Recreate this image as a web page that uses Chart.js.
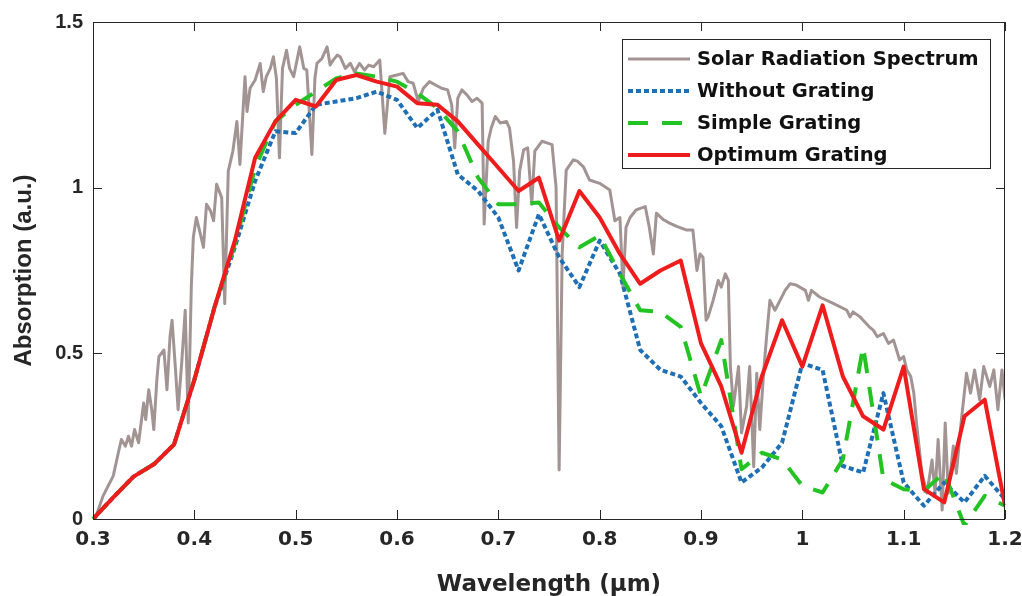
<!DOCTYPE html>
<html>
<head>
<meta charset="utf-8">
<script src="https://cdn.jsdelivr.net/npm/chart.js@4.4.1/dist/chart.umd.min.js"></script>
<style>
  html, body { margin: 0; padding: 0; background: #fff; }
</style>
</head>
<body>
<canvas id="chart" width="1022" height="596"></canvas>
<script>
// ===== Data =====
const seriesNames = ["Solar Radiation Spectrum", "Without Grating", "Simple Grating", "Optimum Grating"];

const xTicks = [0.3, 0.4, 0.5, 0.6, 0.7, 0.8, 0.9, 1.0, 1.1, 1.2];
const yTicks = [0, 0.5, 1, 1.5];

// simulated wavelengths (um)
const gratingWl = [0.30, 0.32, 0.34, 0.36, 0.38, 0.40, 0.42, 0.44, 0.46, 0.48,
                   0.50, 0.52, 0.54, 0.56, 0.58, 0.60, 0.62, 0.64, 0.66, 0.68,
                   0.70, 0.72, 0.74, 0.76, 0.78, 0.80, 0.82, 0.84, 0.86, 0.88,
                   0.90, 0.92, 0.94, 0.96, 0.98, 1.00, 1.02, 1.04, 1.06, 1.08,
                   1.10, 1.12, 1.14, 1.16, 1.18, 1.20];

const withoutGrating = [0, 0.065, 0.128, 0.165, 0.225, 0.42, 0.64, 0.82, 1.02, 1.17,
                        1.165, 1.25, 1.26, 1.27, 1.29, 1.265, 1.18, 1.235, 1.04, 0.99,
                        0.91, 0.75, 0.92, 0.79, 0.70, 0.84, 0.74, 0.51, 0.45, 0.43,
                        0.35, 0.28, 0.11, 0.155, 0.23, 0.47, 0.45, 0.16, 0.14, 0.38,
                        0.11, 0.04, 0.11, 0.05, 0.13, 0.06];

const simpleGrating = [0, 0.065, 0.128, 0.165, 0.225, 0.42, 0.64, 0.83, 1.06, 1.20,
                       1.25, 1.29, 1.33, 1.345, 1.335, 1.32, 1.285, 1.24, 1.17, 1.03,
                       0.95, 0.95, 0.955, 0.88, 0.82, 0.855, 0.74, 0.63, 0.625, 0.58,
                       0.37, 0.54, 0.15, 0.20, 0.18, 0.10, 0.08, 0.18, 0.52, 0.12,
                       0.09, 0.085, 0.14, -0.02, 0.07, 0.04];

const optimumGrating = [0, 0.065, 0.128, 0.165, 0.225, 0.42, 0.64, 0.84, 1.09, 1.20,
                        1.265, 1.245, 1.325, 1.34, 1.32, 1.305, 1.255, 1.25, 1.20, 1.13,
                        1.06, 0.99, 1.03, 0.84, 0.99, 0.91, 0.80, 0.71, 0.75, 0.78,
                        0.53, 0.40, 0.20, 0.43, 0.60, 0.46, 0.645, 0.43, 0.31, 0.27,
                        0.46, 0.09, 0.05, 0.31, 0.36, 0.04];

// solar spectrum trace
const solarWl = [0.302, 0.310, 0.320, 0.325, 0.328, 0.332, 0.335, 0.338, 0.341, 0.345,
                 0.350, 0.352, 0.355, 0.358, 0.360, 0.363, 0.365, 0.370, 0.373, 0.376,
                 0.378, 0.381, 0.384, 0.3875, 0.391, 0.394, 0.397, 0.399, 0.402, 0.406,
                 0.409, 0.412, 0.416, 0.419, 0.422, 0.427, 0.430, 0.4335, 0.438, 0.442,
                 0.445, 0.450, 0.452, 0.455, 0.460, 0.465, 0.468, 0.471, 0.475, 0.478,
                 0.481, 0.484, 0.487, 0.491, 0.494, 0.498, 0.501, 0.504, 0.508, 0.511,
                 0.516, 0.519, 0.521, 0.526, 0.531, 0.534, 0.537, 0.541, 0.544, 0.549,
                 0.554, 0.558, 0.563, 0.568, 0.572, 0.577, 0.583, 0.588, 0.593, 0.600,
                 0.606, 0.611, 0.616, 0.621, 0.626, 0.632, 0.638, 0.644, 0.650, 0.654,
                 0.657, 0.660, 0.664, 0.669, 0.674, 0.679, 0.684, 0.686, 0.690, 0.693,
                 0.697, 0.702, 0.708, 0.711, 0.715, 0.718, 0.721, 0.725, 0.729, 0.733,
                 0.736, 0.743, 0.748, 0.753, 0.757, 0.760, 0.763, 0.767, 0.774, 0.778,
                 0.784, 0.790, 0.800, 0.810, 0.815, 0.820, 0.823, 0.826, 0.830, 0.836,
                 0.845, 0.849, 0.853, 0.856, 0.863, 0.869, 0.876, 0.886, 0.892, 0.896,
                 0.899, 0.902, 0.905, 0.907, 0.912, 0.917, 0.920, 0.924, 0.927, 0.929,
                 0.932, 0.937, 0.940, 0.945, 0.948, 0.952, 0.955, 0.958, 0.962, 0.965,
                 0.968, 0.973, 0.978, 0.983, 0.988, 0.994, 1.003, 1.006, 1.009, 1.017,
                 1.031, 1.044, 1.047, 1.050, 1.057, 1.060, 1.066, 1.070, 1.074, 1.080,
                 1.085, 1.090, 1.096, 1.100, 1.103, 1.107, 1.110, 1.113, 1.118, 1.123,
                 1.128, 1.131, 1.134, 1.138, 1.141, 1.144, 1.149, 1.152, 1.157, 1.162,
                 1.166, 1.170, 1.175, 1.179, 1.185, 1.189, 1.193, 1.197, 1.200];
const solarVal = [0.00, 0.07, 0.13, 0.20, 0.24, 0.22, 0.25, 0.22, 0.27, 0.23,
                  0.35, 0.30, 0.39, 0.33, 0.27, 0.42, 0.49, 0.51, 0.39, 0.55,
                  0.60, 0.47, 0.33, 0.47, 0.63, 0.29, 0.70, 0.85, 0.91, 0.86,
                  0.82, 0.95, 0.93, 0.90, 1.01, 0.97, 0.65, 1.05, 1.11, 1.20,
                  1.07, 1.335, 1.23, 1.30, 1.325, 1.375, 1.29, 1.335, 1.36, 1.395,
                  1.33, 1.09, 1.36, 1.415, 1.36, 1.335, 1.38, 1.425, 1.36, 1.355,
                  1.10, 1.33, 1.375, 1.39, 1.425, 1.37, 1.385, 1.40, 1.395, 1.36,
                  1.375, 1.35, 1.375, 1.355, 1.37, 1.365, 1.385, 1.164, 1.335, 1.34,
                  1.345, 1.32, 1.315, 1.26, 1.30, 1.32, 1.31, 1.30, 1.295, 1.25,
                  1.12, 1.27, 1.295, 1.28, 1.26, 1.27, 1.255, 0.89, 1.14, 1.18,
                  1.215, 1.195, 1.20, 1.18, 1.08, 0.88, 1.05, 1.114, 1.12, 0.95,
                  1.11, 1.14, 1.135, 1.13, 1.0, 0.148, 0.80, 1.053, 1.084, 1.08,
                  1.063, 1.023, 1.013, 0.993, 0.90, 0.91, 0.70, 0.88, 0.91, 0.933,
                  0.943, 0.88, 0.80, 0.923, 0.903, 0.893, 0.883, 0.872, 0.872, 0.75,
                  0.80, 0.79, 0.60, 0.61, 0.66, 0.72, 0.70, 0.74, 0.72, 0.46,
                  0.34, 0.46, 0.26, 0.34, 0.46, 0.158, 0.44, 0.27, 0.45, 0.56,
                  0.66, 0.63, 0.66, 0.69, 0.71, 0.706, 0.69, 0.66, 0.69, 0.67,
                  0.65, 0.63, 0.61, 0.625, 0.61, 0.60, 0.58, 0.57, 0.55, 0.56,
                  0.53, 0.54, 0.48, 0.49, 0.45, 0.43, 0.38, 0.28, 0.138, 0.078,
                  0.178, 0.078, 0.24, 0.027, 0.29, 0.078, 0.22, 0.138, 0.30, 0.44,
                  0.38, 0.45, 0.36, 0.46, 0.40, 0.45, 0.33, 0.45, 0.36];

// ===== helpers =====
const toPoints = (xs, ys) => xs.map((x, i) => ({ x, y: ys[i] }));

const tickFont = { family: "DejaVu Sans", weight: "bold", size: 20 };
const axisColor = "#262626";

// ===== frame + inward tick marks (MATLAB style) =====
const frameTicks = {
  id: "frameTicks",
  afterDatasetsDraw(chart) {
    const { ctx, chartArea: a, scales: { x, y } } = chart;
    ctx.save();
    ctx.strokeStyle = axisColor;
    ctx.lineWidth = 1;
    ctx.strokeRect(a.left + 0.5, a.top + 0.5, a.right - a.left - 1, a.bottom - a.top);
    ctx.beginPath();
    xTicks.forEach(v => {
      const px = Math.round(x.getPixelForValue(v)) + 0.5;
      ctx.moveTo(px, a.bottom); ctx.lineTo(px, a.bottom - 9);
      ctx.moveTo(px, a.top); ctx.lineTo(px, a.top + 9);
    });
    yTicks.forEach(v => {
      const py = Math.round(y.getPixelForValue(v)) + 0.5;
      ctx.moveTo(a.left, py); ctx.lineTo(a.left + 9, py);
      ctx.moveTo(a.right, py); ctx.lineTo(a.right - 9, py);
    });
    ctx.stroke();
    ctx.restore();
  }
};

// ===== legend box inside the axes =====
const boxLegend = {
  id: "boxLegend",
  afterDraw(chart) {
    const { ctx } = chart;
    const left = 622, top = 39, w = 368, h = 129, rowH = 32;
    ctx.save();
    ctx.fillStyle = "#fff";
    ctx.fillRect(left, top, w, h);
    ctx.strokeStyle = axisColor;
    ctx.lineWidth = 1;
    ctx.strokeRect(left + 0.5, top + 0.5, w, h);
    chart.data.datasets.forEach((ds, row) => {
      const cy = top + 20 + row * rowH;
      ctx.beginPath();
      ctx.strokeStyle = ds.borderColor;
      ctx.lineWidth = ds.borderWidth;
      ctx.setLineDash(ds.borderDash || []);
      ctx.moveTo(left + 6, cy);
      ctx.lineTo(left + 68, cy);
      ctx.stroke();
      ctx.setLineDash([]);
      ctx.fillStyle = "#111";
      ctx.font = "bold 19.5px 'DejaVu Sans'";
      ctx.textBaseline = "middle";
      ctx.fillText(ds.label, left + 75, cy + 1);
    });
    ctx.restore();
  }
};

// ===== chart =====
new Chart(document.getElementById("chart"), {
  type: "line",
  data: {
    datasets: [
      { label: seriesNames[0], data: toPoints(solarWl, solarVal), borderColor: "#a39494", borderWidth: 3, order: 4 },
      { label: seriesNames[1], data: toPoints(gratingWl, withoutGrating), borderColor: "#1f6fb4", borderWidth: 4, borderDash: [5, 3], order: 3 },
      { label: seriesNames[2], data: toPoints(gratingWl, simpleGrating), borderColor: "#22c322", borderWidth: 4, borderDash: [20, 14], order: 2, clip: 6 },
      { label: seriesNames[3], data: toPoints(gratingWl, optimumGrating), borderColor: "#ee1c1c", borderWidth: 4, order: 1 }
    ]
  },
  options: {
    responsive: false,
    animation: false,
    elements: { point: { radius: 0 }, line: { tension: 0, fill: false, borderCapStyle: "butt", borderJoinStyle: "round" } },
    layout: { padding: { left: 0, right: 17, top: 22, bottom: 0 } },
    plugins: { legend: { display: false }, tooltip: { enabled: false } },
    scales: {
      x: {
        type: "linear",
        min: 0.3,
        max: 1.2,
        afterBuildTicks: s => { s.ticks = xTicks.map(v => ({ value: v })); },
        afterFit: s => { s.height = 77; s.paddingRight = 0; s.paddingLeft = 0; },
        grid: { display: false, drawTicks: false },
        border: { display: false },
        ticks: {
          font: tickFont, color: axisColor, padding: 9, maxRotation: 0, autoSkip: false,
          callback: v => String(+v.toFixed(1))
        },
        title: {
          display: true, text: "Wavelength (μm)", color: axisColor,
          font: { family: "DejaVu Sans", weight: "bold", size: 23 },
          padding: { top: 0, bottom: -3 }
        }
      },
      y: {
        min: 0,
        max: 1.5,
        afterBuildTicks: s => { s.ticks = yTicks.map(v => ({ value: v })); },
        afterFit: s => { s.width = 93; s.paddingTop = 0; s.paddingBottom = 0; },
        grid: { display: false, drawTicks: false },
        border: { display: false },
        ticks: {
          font: { family: "Liberation Sans", weight: "bold", size: 20 }, color: axisColor, padding: 10,
          callback: v => String(v)
        },
        title: {
          display: true, text: "Absorption (a.u.)", color: axisColor,
          font: { family: "Liberation Sans", weight: "bold", size: 24 },
          padding: { top: 10, bottom: 0 }
        }
      }
    }
  },
  plugins: [frameTicks, boxLegend]
});
</script>
</body>
</html>
